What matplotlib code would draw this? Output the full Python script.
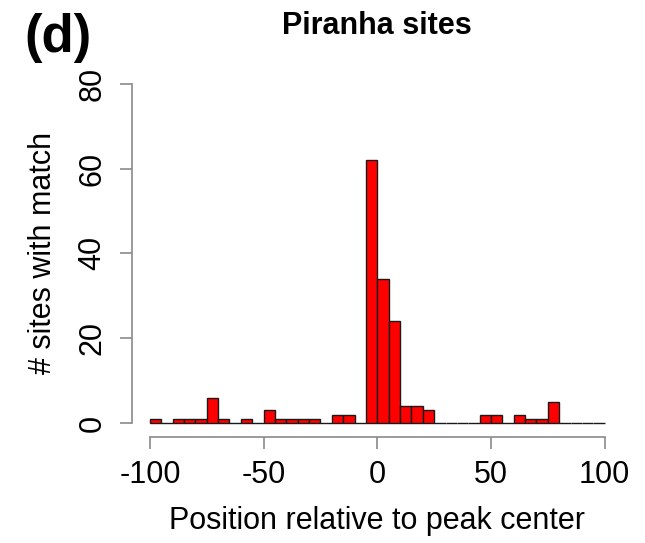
import matplotlib as mpl
import matplotlib.pyplot as plt
import numpy as np

mpl.rcParams['font.family'] = ['Liberation Sans', 'DejaVu Sans']

# histogram of match positions, 5 bp bins from -100 to 100
bin_edges = np.arange(-100, 101, 5)
counts = [1, 0, 1, 1, 1, 6, 1, 0, 1, 0,
          3, 1, 1, 1, 1, 0, 2, 2, 0, 62,
          34, 24, 4, 4, 3, 0, 0, 0, 0, 2,
          2, 0, 2, 1, 1, 5, 0, 0, 0, 0]
xticks = [-100, -50, 0, 50, 100]
yticks = [0, 20, 40, 60, 80]

AXIS_GREY = '#8a8a8a'
FS = 22

fig = plt.figure(figsize=(6.45, 5.43), dpi=100)
ax = fig.add_axes([0.2042, 0.1959, 0.7615, 0.6748])

ax.bar(bin_edges[:-1], counts, width=5, align='edge',
       color='#ff0000', edgecolor='#1a1a1a', linewidth=1.0)

# R style: axes extended 4% beyond the data range, no box
ax.set_xlim(-108, 108)
ax.set_ylim(-3.2, 83.2)
for side in ('top', 'right'):
    ax.spines[side].set_visible(False)
ax.spines['left'].set_bounds(0, 80)
ax.spines['bottom'].set_bounds(-100, 100)
for side in ('left', 'bottom'):
    ax.spines[side].set_color(AXIS_GREY)
    ax.spines[side].set_linewidth(1.2)

ax.set_xticks(xticks)
ax.set_yticks(yticks)
ax.set_xticklabels([str(t) for t in xticks])
ax.set_yticklabels([str(t) for t in yticks], rotation=90, va='center')
ax.tick_params(axis='both', direction='out', length=8.6, width=1.2,
               color=AXIS_GREY, labelsize=FS)
ax.tick_params(axis='x', pad=8)
ax.tick_params(axis='y', pad=9)

ax.set_xlabel('Position relative to peak center', fontsize=FS, labelpad=12)
ax.set_ylabel('# sites with match', fontsize=FS, labelpad=14)
ax.set_title('Piranha sites', fontsize=FS, fontweight='bold', pad=26)

fig.text(0.038, 0.905, '(d)', fontsize=38, fontweight='bold', ha='left', va='baseline')

plt.savefig('out.png', dpi=100)
